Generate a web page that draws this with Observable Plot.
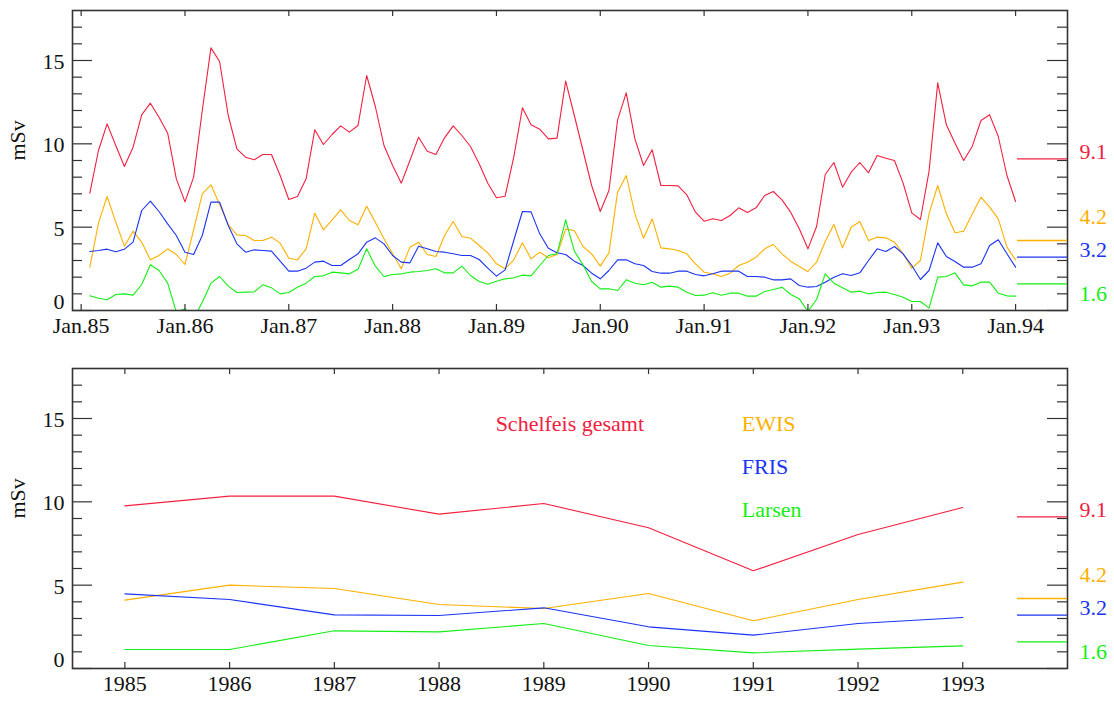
<!DOCTYPE html>
<html>
<head>
<meta charset="utf-8">
<script src="https://cdn.jsdelivr.net/npm/d3@7"></script>
<script src="https://cdn.jsdelivr.net/npm/@observablehq/plot@0.6"></script>
<style>
  body { margin: 0; background: #fff; }
  #chart svg { display: block; }
</style>
</head>
<body>
<div id="chart"></div>
<script>
// ---------- data ----------
const seriesNames = ["Schelfeis gesamt", "EWIS", "FRIS", "Larsen"];
const seriesColors = ["#f2203f", "#ffb000", "#1a33f5", "#14ee14"];

// monthly values Jan 1985 .. Dec 1993 (mSv)
const monthlySchelfeis = [
  7.04, 9.6, 11.2, 9.9, 8.64, 9.8, 11.74, 12.44, 11.6, 10.64, 7.9, 6.52,
  8.0, 12.0, 15.76, 14.94, 11.7, 9.7, 9.2, 9.04, 9.36, 9.36, 8.1, 6.66,
  6.84, 7.9, 10.84, 9.96, 10.56, 11.08, 10.7, 11.1, 14.1, 12.24, 9.9, 8.7,
  7.64, 9.0, 10.4, 9.56, 9.36, 10.36, 11.08, 10.5, 9.84, 8.8, 7.64, 6.76,
  6.86, 9.2, 12.16, 11.14, 10.88, 10.3, 10.34, 13.76, 11.7, 9.6, 7.5, 5.94,
  7.2, 11.44, 13.06, 10.3, 8.7, 9.64, 7.5, 7.5, 7.48, 6.94, 5.9, 5.36,
  5.5, 5.4, 5.7, 6.16, 5.88, 6.16, 6.9, 7.14, 6.64, 5.9, 4.9, 3.7,
  5.04, 8.16, 8.88, 7.4, 8.3, 8.88, 8.26, 9.3, 9.14, 9.0, 7.64, 5.86,
  5.46, 8.36, 13.66, 11.14, 10.04, 9.0, 9.86, 11.4, 11.74, 10.44, 8.1, 6.54
];
const monthlyEWIS = [
  2.6, 5.24, 6.84, 5.3, 3.86, 4.76, 4.1, 3.04, 3.3, 3.7, 3.36, 2.76,
  4.84, 7.0, 7.54, 6.36, 5.16, 4.54, 4.5, 4.2, 4.2, 4.4, 4.04, 3.14,
  3.04, 3.7, 5.84, 4.84, 5.44, 6.04, 5.4, 5.14, 6.26, 5.3, 4.3, 3.4,
  2.5, 3.8, 4.1, 3.36, 3.24, 4.5, 5.34, 4.44, 4.34, 3.9, 3.46, 2.8,
  2.5, 3.04, 4.06, 3.1, 3.5, 3.16, 3.36, 4.88, 4.8, 3.84, 3.4, 2.66,
  3.46, 7.1, 8.1, 5.8, 4.34, 5.5, 3.76, 3.7, 3.6, 3.4, 2.8, 2.3,
  2.2, 2.04, 2.24, 2.7, 2.9, 3.2, 3.7, 3.96, 3.4, 2.96, 2.64, 2.34,
  2.9, 4.14, 5.16, 3.76, 5.0, 5.34, 4.2, 4.4, 4.36, 4.1, 3.4, 2.54,
  3.0, 5.8, 7.5, 5.8, 4.66, 4.76, 5.8, 6.8, 6.2, 5.5, 3.8, 3.04
];
const monthlyFRIS = [
  3.54, 3.6, 3.68, 3.52, 3.68, 4.1, 6.0, 6.56, 5.94, 5.2, 4.5, 3.5,
  3.36, 4.5, 6.5, 6.5, 5.1, 4.0, 3.5, 3.64, 3.6, 3.56, 2.96, 2.36,
  2.36, 2.54, 2.9, 2.96, 2.7, 2.7, 3.06, 3.4, 4.1, 4.36, 4.0, 3.3,
  2.9, 2.86, 3.86, 3.7, 3.54, 3.5, 3.4, 3.3, 3.3, 3.06, 2.54, 2.06,
  2.44, 4.2, 5.94, 5.92, 4.6, 3.74, 3.46, 3.36, 2.96, 2.7, 2.24, 1.9,
  2.4, 3.04, 3.04, 2.8, 2.7, 2.34, 2.24, 2.24, 2.36, 2.36, 2.16, 2.08,
  2.2, 2.36, 2.36, 2.36, 2.04, 2.04, 2.0, 1.84, 1.84, 1.9, 1.5, 1.4,
  1.44, 1.7, 2.0, 2.2, 2.1, 2.26, 3.0, 3.7, 3.54, 3.84, 3.4, 2.7,
  1.86, 2.4, 4.06, 3.24, 2.94, 2.6, 2.6, 2.8, 3.9, 4.24, 3.4, 2.6
];
const monthlyLarsen = [
  0.88, 0.74, 0.64, 0.96, 1.0, 0.92, 1.56, 2.74, 2.4, 1.64, -0.1, 0.1,
  -0.5, 0.5, 1.64, 2.04, 1.46, 1.08, 1.1, 1.12, 1.54, 1.36, 1.0, 1.08,
  1.4, 1.64, 2.04, 2.08, 2.3, 2.26, 2.2, 2.48, 3.7, 2.66, 2.04, 2.16,
  2.2, 2.3, 2.34, 2.4, 2.5, 2.26, 2.26, 2.66, 2.1, 1.74, 1.58, 1.76,
  1.9, 1.96, 2.12, 2.08, 2.7, 3.3, 3.4, 5.44, 3.56, 2.74, 1.74, 1.3,
  1.3, 1.2, 1.84, 1.64, 1.54, 1.7, 1.4, 1.46, 1.4, 1.1, 0.9, 0.92,
  1.06, 0.92, 1.04, 1.04, 0.86, 0.86, 1.14, 1.26, 1.4, 0.96, 0.7, -0.05,
  0.66, 2.2, 1.64, 1.36, 1.1, 1.16, 1.0, 1.08, 1.1, 0.96, 0.8, 0.54,
  0.54, 0.14, 2.0, 2.04, 2.26, 1.54, 1.48, 1.7, 1.7, 1.04, 0.88, 0.86
];

// annual means
const years = [1985, 1986, 1987, 1988, 1989, 1990, 1991, 1992, 1993];
const annualSchelfeis = [9.76, 10.34, 10.34, 9.26, 9.9, 8.44, 5.86, 8.04, 9.66];
const annualEWIS      = [4.1, 5.0, 4.8, 3.84, 3.6, 4.5, 2.86, 4.14, 5.18];
const annualFRIS      = [4.48, 4.14, 3.22, 3.18, 3.64, 2.5, 2.0, 2.7, 3.06];
const annualLarsen    = [1.14, 1.14, 2.26, 2.2, 2.7, 1.38, 0.94, 1.16, 1.36];

// overall means (right-hand markers)
const meanValues = [9.1, 4.2, 3.2, 1.6];
const meanLabels = ["9.1", "4.2", "3.2", "1.6"];

// tick labels
const monthTicks = [0, 12, 24, 36, 48, 60, 72, 84, 96, 108];
const monthTickLabels = ["Jan.85", "Jan.86", "Jan.87", "Jan.88", "Jan.89",
                         "Jan.90", "Jan.91", "Jan.92", "Jan.93", "Jan.94"];
const yMajorTicks = [0, 5, 10, 15];
const yMinorTicks = [1, 2, 3, 4, 6, 7, 8, 9, 11, 12, 13, 14, 16, 17];
const yUnit = "mSv";

// ---------- layout ----------
const W = 1114;
const ML = 72, MR = 47;
const FW = W - ML - MR;   // frame width
const FH = 300;           // frame height
const FONT = "'Liberation Serif', 'DejaVu Serif', serif";
const FS = 22;
const AXIS = "#333";
const meanLabelY = [9.5, 5.6, 3.62, 0.98];
const legendX = [1988.54, 1990.89, 1990.89, 1990.89];
const legendY = [14.66, 14.67, 12.12, 9.51];

const monthlySeries = [monthlySchelfeis, monthlyEWIS, monthlyFRIS, monthlyLarsen];
const annualSeries = [annualSchelfeis, annualEWIS, annualFRIS, annualLarsen];

const monthlyRows = monthlySeries.flatMap((arr, s) =>
  arr.map((v, i) => ({series: seriesNames[s], month: i + 1, value: v})));
const annualRows = annualSeries.flatMap((arr, s) =>
  arr.map((v, i) => ({series: seriesNames[s], year: years[i], value: v})));
const meanRows = meanValues.map((v, i) => ({
  series: seriesNames[i], value: v, label: meanLabels[i], ly: meanLabelY[i]
}));

function frameMarks(xTicks) {
  return [
    Plot.tickY(yMajorTicks, {y: d => d, stroke: AXIS, strokeWidth: 1.2, insetRight: FW - 20}),
    Plot.tickY(yMinorTicks, {y: d => d, stroke: AXIS, strokeWidth: 1.2, insetRight: FW - 10}),
    Plot.tickY(yMajorTicks, {y: d => d, stroke: AXIS, strokeWidth: 1.2, insetLeft: FW - 20}),
    Plot.tickY(yMinorTicks, {y: d => d, stroke: AXIS, strokeWidth: 1.2, insetLeft: FW - 10}),
    Plot.tickX(xTicks, {x: d => d, stroke: AXIS, strokeWidth: 1.2, insetBottom: FH - 6}),
    Plot.tickX(xTicks, {x: d => d, stroke: AXIS, strokeWidth: 1.2, insetTop: FH - 6}),
    Plot.frame({stroke: AXIS, strokeWidth: 1.6}),
    Plot.text(yMajorTicks.filter(d => d > 0), {y: d => d, text: d => String(d), frameAnchor: "left",
      dx: -8, dy: 1.5, textAnchor: "end", fontSize: FS, fill: "#111"}),
    Plot.text([0], {y: d => d, text: d => String(d), frameAnchor: "left",
      dx: -8, dy: -9, textAnchor: "end", fontSize: FS, fill: "#111"}),
    Plot.text([yUnit], {text: d => d, frameAnchor: "left", dx: -55, rotate: -90,
      fontSize: FS, fill: "#111"})
  ];
}

function meanMarks() {
  return [
    Plot.tickY(meanRows, {y: "value", stroke: "series", strokeWidth: 1.3, insetLeft: FW - 50}),
    Plot.text(meanRows, {y: "ly", text: "label", fill: "series", frameAnchor: "right",
      dx: 12, textAnchor: "start", fontSize: FS})
  ];
}

const colorScale = {domain: seriesNames, range: seriesColors};

const topChart = Plot.plot({
  width: W, height: 350,
  marginLeft: ML, marginRight: MR, marginTop: 10, marginBottom: 40,
  x: {domain: [-1, 114], axis: null},
  y: {domain: [0, 18], axis: null},
  color: colorScale,
  style: {fontFamily: FONT, background: "#fff", overflow: "visible"},
  marks: [
    Plot.line(monthlyRows, {x: "month", y: "value", z: "series", stroke: "series",
      strokeWidth: 1.1, clip: true}),
    ...frameMarks(monthTicks),
    ...meanMarks(),
    Plot.text(monthTicks, {x: d => d, text: (d, i) => monthTickLabels[i], frameAnchor: "bottom",
      dy: 22, fontSize: FS, fill: "#111"})
  ]
});

const bottomChart = Plot.plot({
  width: W, height: 353,
  marginLeft: ML, marginRight: MR, marginTop: 18, marginBottom: 35,
  x: {domain: [1984.5, 1994], axis: null},
  y: {domain: [0, 18], axis: null},
  color: colorScale,
  style: {fontFamily: FONT, background: "#fff", overflow: "visible"},
  marks: [
    Plot.line(annualRows, {x: "year", y: "value", z: "series", stroke: "series",
      strokeWidth: 1.1, clip: true}),
    ...frameMarks(years),
    ...meanMarks(),
    Plot.text(years, {x: d => d, text: d => String(d), frameAnchor: "bottom",
      dy: 22, fontSize: FS, fill: "#111"}),
    Plot.text(seriesNames, {x: (d, i) => legendX[i], y: (d, i) => legendY[i], text: d => d,
      fill: d => d, textAnchor: "start", fontSize: FS})
  ]
});

const root = document.getElementById("chart");
root.appendChild(topChart);
root.appendChild(bottomChart);
</script>
</body>
</html>
